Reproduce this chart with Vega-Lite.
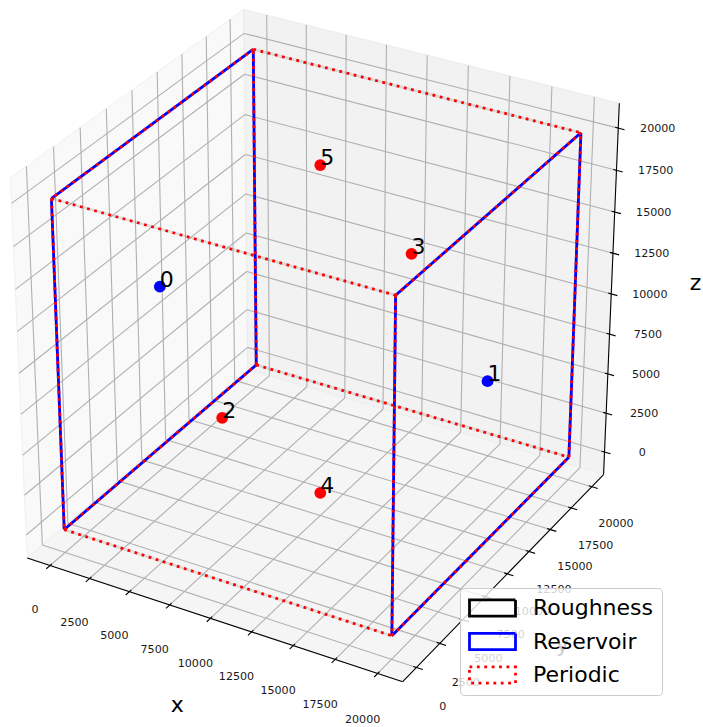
{
  "$schema": "https://vega.github.io/schema/vega-lite/v6.json",
  "width": 703,
  "height": 727,
  "autosize": "none",
  "padding": 0,
  "config": {"view": {"stroke": null}, "font": "DejaVu Sans"},
  "datasets": {
    "ticks": [
      {"axis": "x", "v": 0}, {"axis": "x", "v": 2500}, {"axis": "x", "v": 5000}, {"axis": "x", "v": 7500}, {"axis": "x", "v": 10000}, {"axis": "x", "v": 12500}, {"axis": "x", "v": 15000}, {"axis": "x", "v": 17500}, {"axis": "x", "v": 20000},
      {"axis": "y", "v": 0}, {"axis": "y", "v": 2500}, {"axis": "y", "v": 5000}, {"axis": "y", "v": 7500}, {"axis": "y", "v": 10000}, {"axis": "y", "v": 12500}, {"axis": "y", "v": 15000}, {"axis": "y", "v": 17500}, {"axis": "y", "v": 20000},
      {"axis": "z", "v": 0}, {"axis": "z", "v": 2500}, {"axis": "z", "v": 5000}, {"axis": "z", "v": 7500}, {"axis": "z", "v": 10000}, {"axis": "z", "v": 12500}, {"axis": "z", "v": 15000}, {"axis": "z", "v": 17500}, {"axis": "z", "v": 20000}
    ],
    "axes": [{"axis": "x"}, {"axis": "y"}, {"axis": "z"}],
    "corners": [{"i": 0}, {"i": 1}, {"i": 2}, {"i": 3}],
    "edges": [
      {"boundary": "Reservoir", "x1": 0, "y1": 0, "z1": 0, "x2": 0, "y2": 20000, "z2": 0},
      {"boundary": "Reservoir", "x1": 0, "y1": 20000, "z1": 0, "x2": 0, "y2": 20000, "z2": 20000},
      {"boundary": "Reservoir", "x1": 0, "y1": 20000, "z1": 20000, "x2": 0, "y2": 0, "z2": 20000},
      {"boundary": "Reservoir", "x1": 0, "y1": 0, "z1": 20000, "x2": 0, "y2": 0, "z2": 0},
      {"boundary": "Reservoir", "x1": 20000, "y1": 0, "z1": 0, "x2": 20000, "y2": 20000, "z2": 0},
      {"boundary": "Reservoir", "x1": 20000, "y1": 20000, "z1": 0, "x2": 20000, "y2": 20000, "z2": 20000},
      {"boundary": "Reservoir", "x1": 20000, "y1": 20000, "z1": 20000, "x2": 20000, "y2": 0, "z2": 20000},
      {"boundary": "Reservoir", "x1": 20000, "y1": 0, "z1": 20000, "x2": 20000, "y2": 0, "z2": 0},
      {"boundary": "Periodic", "x1": 0, "y1": 0, "z1": 0, "x2": 0, "y2": 20000, "z2": 0},
      {"boundary": "Periodic", "x1": 0, "y1": 20000, "z1": 0, "x2": 0, "y2": 20000, "z2": 20000},
      {"boundary": "Periodic", "x1": 0, "y1": 20000, "z1": 20000, "x2": 0, "y2": 0, "z2": 20000},
      {"boundary": "Periodic", "x1": 0, "y1": 0, "z1": 20000, "x2": 0, "y2": 0, "z2": 0},
      {"boundary": "Periodic", "x1": 20000, "y1": 0, "z1": 0, "x2": 20000, "y2": 20000, "z2": 0},
      {"boundary": "Periodic", "x1": 20000, "y1": 20000, "z1": 0, "x2": 20000, "y2": 20000, "z2": 20000},
      {"boundary": "Periodic", "x1": 20000, "y1": 20000, "z1": 20000, "x2": 20000, "y2": 0, "z2": 20000},
      {"boundary": "Periodic", "x1": 20000, "y1": 0, "z1": 20000, "x2": 20000, "y2": 0, "z2": 0},
      {"boundary": "Periodic", "x1": 0, "y1": 0, "z1": 0, "x2": 20000, "y2": 0, "z2": 0},
      {"boundary": "Periodic", "x1": 0, "y1": 20000, "z1": 0, "x2": 20000, "y2": 20000, "z2": 0},
      {"boundary": "Periodic", "x1": 0, "y1": 0, "z1": 20000, "x2": 20000, "y2": 0, "z2": 20000},
      {"boundary": "Periodic", "x1": 0, "y1": 20000, "z1": 20000, "x2": 20000, "y2": 20000, "z2": 20000}
    ],
    "points": [
      {"id": "0", "boundary": "Reservoir", "x": 0, "y": 10000, "z": 10000},
      {"id": "1", "boundary": "Reservoir", "x": 20000, "y": 10000, "z": 10000},
      {"id": "2", "boundary": "Periodic", "x": 10000, "y": 0, "z": 10000},
      {"id": "3", "boundary": "Periodic", "x": 10000, "y": 20000, "z": 10000},
      {"id": "4", "boundary": "Periodic", "x": 10000, "y": 10000, "z": 0},
      {"id": "5", "boundary": "Periodic", "x": 10000, "y": 10000, "z": 20000}
    ]
  },
  "layer": [
    {
      "data": {"name": "corners"},
      "transform": [
        {"calculate": "-1458.33", "as": "x1"},
        {"calculate": "(datum.i==1||datum.i==2) ? 21458.33 : -1458.33", "as": "y1"},
        {"calculate": "datum.i>=2 ? 21458.33 : -1458.33", "as": "z1"},
        {"calculate": "(datum.x1-10000)*4.801e-5", "as": "a1"},
        {"calculate": "(datum.y1-10000)*4.801e-5", "as": "b1"},
        {"calculate": "(datum.z1-10000)*4.801e-5", "as": "c1"},
        {"calculate": "10-0.4330127*datum.a1+0.75*datum.b1-0.5*datum.c1", "as": "w1"},
        {"calculate": "(0.8660254*datum.a1+0.5*datum.b1)/datum.w1", "as": "X1"},
        {"calculate": "(-0.25*datum.a1+0.4330127*datum.b1+0.8660254*datum.c1)/datum.w1", "as": "Y1"}
      ],
      "mark": {"type": "line", "interpolate": "linear-closed", "fill": "#f9f9f9", "stroke": "#f0f0f0", "strokeWidth": 1},
      "encoding": {
        "x": {"field": "X1", "type": "quantitative", "scale": {"domain": [-0.081315, 0.097157], "nice": false, "zero": false}, "axis": null},
        "y": {"field": "Y1", "type": "quantitative", "scale": {"domain": [-0.100051, 0.084514], "nice": false, "zero": false}, "axis": null},
        "order": {"field": "i", "type": "quantitative"}
      }
    },
    {
      "data": {"name": "corners"},
      "transform": [
        {"calculate": "(datum.i==1||datum.i==2) ? 21458.33 : -1458.33", "as": "x1"},
        {"calculate": "21458.33", "as": "y1"},
        {"calculate": "datum.i>=2 ? 21458.33 : -1458.33", "as": "z1"},
        {"calculate": "(datum.x1-10000)*4.801e-5", "as": "a1"},
        {"calculate": "(datum.y1-10000)*4.801e-5", "as": "b1"},
        {"calculate": "(datum.z1-10000)*4.801e-5", "as": "c1"},
        {"calculate": "10-0.4330127*datum.a1+0.75*datum.b1-0.5*datum.c1", "as": "w1"},
        {"calculate": "(0.8660254*datum.a1+0.5*datum.b1)/datum.w1", "as": "X1"},
        {"calculate": "(-0.25*datum.a1+0.4330127*datum.b1+0.8660254*datum.c1)/datum.w1", "as": "Y1"}
      ],
      "mark": {"type": "line", "interpolate": "linear-closed", "fill": "#f2f2f2", "stroke": "#ebebeb", "strokeWidth": 1},
      "encoding": {
        "x": {"field": "X1", "type": "quantitative", "scale": {"domain": [-0.081315, 0.097157], "nice": false, "zero": false}, "axis": null},
        "y": {"field": "Y1", "type": "quantitative", "scale": {"domain": [-0.100051, 0.084514], "nice": false, "zero": false}, "axis": null},
        "order": {"field": "i", "type": "quantitative"}
      }
    },
    {
      "data": {"name": "corners"},
      "transform": [
        {"calculate": "(datum.i==1||datum.i==2) ? 21458.33 : -1458.33", "as": "x1"},
        {"calculate": "datum.i>=2 ? 21458.33 : -1458.33", "as": "y1"},
        {"calculate": "-1458.33", "as": "z1"},
        {"calculate": "(datum.x1-10000)*4.801e-5", "as": "a1"},
        {"calculate": "(datum.y1-10000)*4.801e-5", "as": "b1"},
        {"calculate": "(datum.z1-10000)*4.801e-5", "as": "c1"},
        {"calculate": "10-0.4330127*datum.a1+0.75*datum.b1-0.5*datum.c1", "as": "w1"},
        {"calculate": "(0.8660254*datum.a1+0.5*datum.b1)/datum.w1", "as": "X1"},
        {"calculate": "(-0.25*datum.a1+0.4330127*datum.b1+0.8660254*datum.c1)/datum.w1", "as": "Y1"}
      ],
      "mark": {"type": "line", "interpolate": "linear-closed", "fill": "#f5f5f5", "stroke": "#eeeeee", "strokeWidth": 1},
      "encoding": {
        "x": {"field": "X1", "type": "quantitative", "scale": {"domain": [-0.081315, 0.097157], "nice": false, "zero": false}, "axis": null},
        "y": {"field": "Y1", "type": "quantitative", "scale": {"domain": [-0.100051, 0.084514], "nice": false, "zero": false}, "axis": null},
        "order": {"field": "i", "type": "quantitative"}
      }
    },
    {
      "data": {"name": "ticks"},
      "transform": [
        {"calculate": "datum.axis=='x' ? datum.v : datum.axis=='y' ? -1458.33 : 21458.33", "as": "x1"},
        {"calculate": "datum.axis=='x' ? -1458.33 : datum.axis=='y' ? datum.v : 21458.33", "as": "y1"},
        {"calculate": "datum.axis=='x' ? -1458.33 : datum.axis=='y' ? 21458.33 : datum.v", "as": "z1"},
        {"calculate": "datum.axis=='x' ? datum.v : -1458.33", "as": "x2"},
        {"calculate": "datum.axis=='y' ? datum.v : 21458.33", "as": "y2"},
        {"calculate": "datum.axis=='z' ? datum.v : -1458.33", "as": "z2"},
        {"calculate": "(datum.x1-10000)*4.801e-5", "as": "a1"},
        {"calculate": "(datum.y1-10000)*4.801e-5", "as": "b1"},
        {"calculate": "(datum.z1-10000)*4.801e-5", "as": "c1"},
        {"calculate": "10-0.4330127*datum.a1+0.75*datum.b1-0.5*datum.c1", "as": "w1"},
        {"calculate": "(0.8660254*datum.a1+0.5*datum.b1)/datum.w1", "as": "X1"},
        {"calculate": "(-0.25*datum.a1+0.4330127*datum.b1+0.8660254*datum.c1)/datum.w1", "as": "Y1"},
        {"calculate": "(datum.x2-10000)*4.801e-5", "as": "a2"},
        {"calculate": "(datum.y2-10000)*4.801e-5", "as": "b2"},
        {"calculate": "(datum.z2-10000)*4.801e-5", "as": "c2"},
        {"calculate": "10-0.4330127*datum.a2+0.75*datum.b2-0.5*datum.c2", "as": "w2"},
        {"calculate": "(0.8660254*datum.a2+0.5*datum.b2)/datum.w2", "as": "X2"},
        {"calculate": "(-0.25*datum.a2+0.4330127*datum.b2+0.8660254*datum.c2)/datum.w2", "as": "Y2"}
      ],
      "mark": {"type": "rule", "color": "#b0b0b0", "strokeWidth": 1.1},
      "encoding": {
        "x": {"field": "X1", "type": "quantitative", "scale": {"domain": [-0.081315, 0.097157], "nice": false, "zero": false}, "axis": null},
        "y": {"field": "Y1", "type": "quantitative", "scale": {"domain": [-0.100051, 0.084514], "nice": false, "zero": false}, "axis": null},
        "x2": {"field": "X2"},
        "y2": {"field": "Y2"}
      }
    },
    {
      "data": {"name": "ticks"},
      "transform": [
        {"calculate": "datum.axis=='x' ? datum.v : -1458.33", "as": "x1"},
        {"calculate": "datum.axis=='y' ? datum.v : 21458.33", "as": "y1"},
        {"calculate": "datum.axis=='z' ? datum.v : -1458.33", "as": "z1"},
        {"calculate": "datum.axis=='x' ? datum.v : datum.axis=='y' ? 21458.33 : -1458.33", "as": "x2"},
        {"calculate": "datum.axis=='x' ? 21458.33 : datum.axis=='y' ? datum.v : -1458.33", "as": "y2"},
        {"calculate": "datum.axis=='x' ? 21458.33 : datum.axis=='y' ? -1458.33 : datum.v", "as": "z2"},
        {"calculate": "(datum.x1-10000)*4.801e-5", "as": "a1"},
        {"calculate": "(datum.y1-10000)*4.801e-5", "as": "b1"},
        {"calculate": "(datum.z1-10000)*4.801e-5", "as": "c1"},
        {"calculate": "10-0.4330127*datum.a1+0.75*datum.b1-0.5*datum.c1", "as": "w1"},
        {"calculate": "(0.8660254*datum.a1+0.5*datum.b1)/datum.w1", "as": "X1"},
        {"calculate": "(-0.25*datum.a1+0.4330127*datum.b1+0.8660254*datum.c1)/datum.w1", "as": "Y1"},
        {"calculate": "(datum.x2-10000)*4.801e-5", "as": "a2"},
        {"calculate": "(datum.y2-10000)*4.801e-5", "as": "b2"},
        {"calculate": "(datum.z2-10000)*4.801e-5", "as": "c2"},
        {"calculate": "10-0.4330127*datum.a2+0.75*datum.b2-0.5*datum.c2", "as": "w2"},
        {"calculate": "(0.8660254*datum.a2+0.5*datum.b2)/datum.w2", "as": "X2"},
        {"calculate": "(-0.25*datum.a2+0.4330127*datum.b2+0.8660254*datum.c2)/datum.w2", "as": "Y2"}
      ],
      "mark": {"type": "rule", "color": "#b0b0b0", "strokeWidth": 1.1},
      "encoding": {
        "x": {"field": "X1", "type": "quantitative", "scale": {"domain": [-0.081315, 0.097157], "nice": false, "zero": false}, "axis": null},
        "y": {"field": "Y1", "type": "quantitative", "scale": {"domain": [-0.100051, 0.084514], "nice": false, "zero": false}, "axis": null},
        "x2": {"field": "X2"},
        "y2": {"field": "Y2"}
      }
    },
    {
      "data": {"name": "axes"},
      "transform": [
        {"calculate": "datum.axis=='x' ? -1458.33 : 21458.33", "as": "x1"},
        {"calculate": "datum.axis=='z' ? 21458.33 : -1458.33", "as": "y1"},
        {"calculate": "-1458.33", "as": "z1"},
        {"calculate": "21458.33", "as": "x2"},
        {"calculate": "datum.axis=='x' ? -1458.33 : 21458.33", "as": "y2"},
        {"calculate": "datum.axis=='z' ? 21458.33 : -1458.33", "as": "z2"},
        {"calculate": "(datum.x1-10000)*4.801e-5", "as": "a1"},
        {"calculate": "(datum.y1-10000)*4.801e-5", "as": "b1"},
        {"calculate": "(datum.z1-10000)*4.801e-5", "as": "c1"},
        {"calculate": "10-0.4330127*datum.a1+0.75*datum.b1-0.5*datum.c1", "as": "w1"},
        {"calculate": "(0.8660254*datum.a1+0.5*datum.b1)/datum.w1", "as": "X1"},
        {"calculate": "(-0.25*datum.a1+0.4330127*datum.b1+0.8660254*datum.c1)/datum.w1", "as": "Y1"},
        {"calculate": "(datum.x2-10000)*4.801e-5", "as": "a2"},
        {"calculate": "(datum.y2-10000)*4.801e-5", "as": "b2"},
        {"calculate": "(datum.z2-10000)*4.801e-5", "as": "c2"},
        {"calculate": "10-0.4330127*datum.a2+0.75*datum.b2-0.5*datum.c2", "as": "w2"},
        {"calculate": "(0.8660254*datum.a2+0.5*datum.b2)/datum.w2", "as": "X2"},
        {"calculate": "(-0.25*datum.a2+0.4330127*datum.b2+0.8660254*datum.c2)/datum.w2", "as": "Y2"}
      ],
      "mark": {"type": "rule", "color": "black", "strokeWidth": 1.1},
      "encoding": {
        "x": {"field": "X1", "type": "quantitative", "scale": {"domain": [-0.081315, 0.097157], "nice": false, "zero": false}, "axis": null},
        "y": {"field": "Y1", "type": "quantitative", "scale": {"domain": [-0.100051, 0.084514], "nice": false, "zero": false}, "axis": null},
        "x2": {"field": "X2"},
        "y2": {"field": "Y2"}
      }
    },
    {
      "data": {"name": "ticks"},
      "transform": [
        {"calculate": "datum.axis=='x' ? datum.v : 21275", "as": "x1"},
        {"calculate": "datum.axis=='x' ? -1275 : datum.axis=='y' ? datum.v : 21458.33", "as": "y1"},
        {"calculate": "datum.axis=='z' ? datum.v : -1458.33", "as": "z1"},
        {"calculate": "datum.axis=='x' ? datum.v : 21825", "as": "x2"},
        {"calculate": "datum.axis=='x' ? -1825 : datum.axis=='y' ? datum.v : 21458.33", "as": "y2"},
        {"calculate": "datum.axis=='z' ? datum.v : -1458.33", "as": "z2"},
        {"calculate": "(datum.x1-10000)*4.801e-5", "as": "a1"},
        {"calculate": "(datum.y1-10000)*4.801e-5", "as": "b1"},
        {"calculate": "(datum.z1-10000)*4.801e-5", "as": "c1"},
        {"calculate": "10-0.4330127*datum.a1+0.75*datum.b1-0.5*datum.c1", "as": "w1"},
        {"calculate": "(0.8660254*datum.a1+0.5*datum.b1)/datum.w1", "as": "X1"},
        {"calculate": "(-0.25*datum.a1+0.4330127*datum.b1+0.8660254*datum.c1)/datum.w1", "as": "Y1"},
        {"calculate": "(datum.x2-10000)*4.801e-5", "as": "a2"},
        {"calculate": "(datum.y2-10000)*4.801e-5", "as": "b2"},
        {"calculate": "(datum.z2-10000)*4.801e-5", "as": "c2"},
        {"calculate": "10-0.4330127*datum.a2+0.75*datum.b2-0.5*datum.c2", "as": "w2"},
        {"calculate": "(0.8660254*datum.a2+0.5*datum.b2)/datum.w2", "as": "X2"},
        {"calculate": "(-0.25*datum.a2+0.4330127*datum.b2+0.8660254*datum.c2)/datum.w2", "as": "Y2"}
      ],
      "mark": {"type": "rule", "color": "black", "strokeWidth": 1.1},
      "encoding": {
        "x": {"field": "X1", "type": "quantitative", "scale": {"domain": [-0.081315, 0.097157], "nice": false, "zero": false}, "axis": null},
        "y": {"field": "Y1", "type": "quantitative", "scale": {"domain": [-0.100051, 0.084514], "nice": false, "zero": false}, "axis": null},
        "x2": {"field": "X2"},
        "y2": {"field": "Y2"}
      }
    },
    {
      "data": {"name": "ticks"},
      "transform": [
        {"calculate": "datum.axis=='x' ? datum.v : 23008.33", "as": "x1"},
        {"calculate": "datum.axis=='y' ? datum.v : datum.axis=='x' ? -3008.33 : 23008.33", "as": "y1"},
        {"calculate": "datum.axis=='z' ? datum.v : -3008.33", "as": "z1"},
        {"calculate": "(datum.x1-10000)*4.801e-5", "as": "a1"},
        {"calculate": "(datum.y1-10000)*4.801e-5", "as": "b1"},
        {"calculate": "(datum.z1-10000)*4.801e-5", "as": "c1"},
        {"calculate": "10-0.4330127*datum.a1+0.75*datum.b1-0.5*datum.c1", "as": "w1"},
        {"calculate": "(0.8660254*datum.a1+0.5*datum.b1)/datum.w1", "as": "X1"},
        {"calculate": "(-0.25*datum.a1+0.4330127*datum.b1+0.8660254*datum.c1)/datum.w1", "as": "Y1"}
      ],
      "mark": {"type": "text", "align": "center", "baseline": "top", "fontSize": 11.1, "color": "#1a1a1a"},
      "encoding": {
        "x": {"field": "X1", "type": "quantitative", "scale": {"domain": [-0.081315, 0.097157], "nice": false, "zero": false}, "axis": null},
        "y": {"field": "Y1", "type": "quantitative", "scale": {"domain": [-0.100051, 0.084514], "nice": false, "zero": false}, "axis": null},
        "text": {"field": "v", "type": "quantitative", "format": "d"}
      }
    },
    {
      "data": {"name": "axes"},
      "transform": [
        {"calculate": "datum.axis=='x' ? 10000 : 24858.33", "as": "x1"},
        {"calculate": "datum.axis=='y' ? 10000 : datum.axis=='x' ? -4858.33 : 24858.33", "as": "y1"},
        {"calculate": "datum.axis=='z' ? 10000 : -4858.33", "as": "z1"},
        {"calculate": "(datum.x1-10000)*4.801e-5", "as": "a1"},
        {"calculate": "(datum.y1-10000)*4.801e-5", "as": "b1"},
        {"calculate": "(datum.z1-10000)*4.801e-5", "as": "c1"},
        {"calculate": "10-0.4330127*datum.a1+0.75*datum.b1-0.5*datum.c1", "as": "w1"},
        {"calculate": "(0.8660254*datum.a1+0.5*datum.b1)/datum.w1", "as": "X1"},
        {"calculate": "(-0.25*datum.a1+0.4330127*datum.b1+0.8660254*datum.c1)/datum.w1", "as": "Y1"}
      ],
      "mark": {"type": "text", "align": "center", "baseline": "middle", "fontSize": 22, "color": "black"},
      "encoding": {
        "x": {"field": "X1", "type": "quantitative", "scale": {"domain": [-0.081315, 0.097157], "nice": false, "zero": false}, "axis": null},
        "y": {"field": "Y1", "type": "quantitative", "scale": {"domain": [-0.100051, 0.084514], "nice": false, "zero": false}, "axis": null},
        "text": {"field": "axis", "type": "nominal"}
      }
    },
    {
      "data": {"name": "edges"},
      "transform": [
        {"filter": "datum.boundary=='Periodic'"},
        {"calculate": "(datum.x1-10000)*4.801e-5", "as": "a1"},
        {"calculate": "(datum.y1-10000)*4.801e-5", "as": "b1"},
        {"calculate": "(datum.z1-10000)*4.801e-5", "as": "c1"},
        {"calculate": "10-0.4330127*datum.a1+0.75*datum.b1-0.5*datum.c1", "as": "w1"},
        {"calculate": "(0.8660254*datum.a1+0.5*datum.b1)/datum.w1", "as": "X1"},
        {"calculate": "(-0.25*datum.a1+0.4330127*datum.b1+0.8660254*datum.c1)/datum.w1", "as": "Y1"},
        {"calculate": "(datum.x2-10000)*4.801e-5", "as": "a2"},
        {"calculate": "(datum.y2-10000)*4.801e-5", "as": "b2"},
        {"calculate": "(datum.z2-10000)*4.801e-5", "as": "c2"},
        {"calculate": "10-0.4330127*datum.a2+0.75*datum.b2-0.5*datum.c2", "as": "w2"},
        {"calculate": "(0.8660254*datum.a2+0.5*datum.b2)/datum.w2", "as": "X2"},
        {"calculate": "(-0.25*datum.a2+0.4330127*datum.b2+0.8660254*datum.c2)/datum.w2", "as": "Y2"}
      ],
      "mark": {"type": "rule", "color": "black", "opacity": 0.1, "strokeWidth": 2.8},
      "encoding": {
        "x": {"field": "X1", "type": "quantitative", "scale": {"domain": [-0.081315, 0.097157], "nice": false, "zero": false}, "axis": null},
        "y": {"field": "Y1", "type": "quantitative", "scale": {"domain": [-0.100051, 0.084514], "nice": false, "zero": false}, "axis": null},
        "x2": {"field": "X2"},
        "y2": {"field": "Y2"}
      }
    },
    {
      "data": {"name": "edges"},
      "transform": [
        {"calculate": "(datum.x1-10000)*4.801e-5", "as": "a1"},
        {"calculate": "(datum.y1-10000)*4.801e-5", "as": "b1"},
        {"calculate": "(datum.z1-10000)*4.801e-5", "as": "c1"},
        {"calculate": "10-0.4330127*datum.a1+0.75*datum.b1-0.5*datum.c1", "as": "w1"},
        {"calculate": "(0.8660254*datum.a1+0.5*datum.b1)/datum.w1", "as": "X1"},
        {"calculate": "(-0.25*datum.a1+0.4330127*datum.b1+0.8660254*datum.c1)/datum.w1", "as": "Y1"},
        {"calculate": "(datum.x2-10000)*4.801e-5", "as": "a2"},
        {"calculate": "(datum.y2-10000)*4.801e-5", "as": "b2"},
        {"calculate": "(datum.z2-10000)*4.801e-5", "as": "c2"},
        {"calculate": "10-0.4330127*datum.a2+0.75*datum.b2-0.5*datum.c2", "as": "w2"},
        {"calculate": "(0.8660254*datum.a2+0.5*datum.b2)/datum.w2", "as": "X2"},
        {"calculate": "(-0.25*datum.a2+0.4330127*datum.b2+0.8660254*datum.c2)/datum.w2", "as": "Y2"}
      ],
      "mark": {"type": "rule", "strokeWidth": 2.8, "strokeCap": "butt"},
      "encoding": {
        "x": {"field": "X1", "type": "quantitative", "scale": {"domain": [-0.081315, 0.097157], "nice": false, "zero": false}, "axis": null},
        "y": {"field": "Y1", "type": "quantitative", "scale": {"domain": [-0.100051, 0.084514], "nice": false, "zero": false}, "axis": null},
        "x2": {"field": "X2"},
        "y2": {"field": "Y2"},
        "color": {
          "field": "boundary", "type": "nominal",
          "scale": {"domain": ["Roughness", "Reservoir", "Periodic"], "range": ["black", "blue", "red"]},
          "legend": {"title": null, "orient": "none", "legendX": 460, "legendY": 588, "symbolType": "M-1,-0.35H1V0.35H-1Z", "symbolSize": 2116, "symbolStrokeWidth": 2.8, "symbolFillColor": "transparent", "labelFontSize": 22, "labelFont": "DejaVu Sans", "labelColor": "black", "labelOffset": 16, "clipHeight": 24, "rowPadding": 9.5, "padding": 8, "fillColor": "rgba(255,255,255,0.8)", "strokeColor": "#cccccc", "cornerRadius": 4}
        },
        "strokeDash": {
          "field": "boundary", "type": "nominal",
          "scale": {"domain": ["Roughness", "Reservoir", "Periodic"], "range": [[1, 0], [1, 0], [2.8, 4.6]]},
          "legend": {"title": null, "orient": "none", "legendX": 460, "legendY": 588, "symbolType": "M-1,-0.35H1V0.35H-1Z", "symbolSize": 2116, "symbolStrokeWidth": 2.8, "symbolFillColor": "transparent", "labelFontSize": 22, "labelFont": "DejaVu Sans", "labelColor": "black", "labelOffset": 16, "clipHeight": 24, "rowPadding": 9.5, "padding": 8, "fillColor": "rgba(255,255,255,0.8)", "strokeColor": "#cccccc", "cornerRadius": 4}
        }
      }
    },
    {
      "data": {"name": "points"},
      "transform": [
        {"calculate": "(datum.x-10000)*4.801e-5", "as": "a1"},
        {"calculate": "(datum.y-10000)*4.801e-5", "as": "b1"},
        {"calculate": "(datum.z-10000)*4.801e-5", "as": "c1"},
        {"calculate": "10-0.4330127*datum.a1+0.75*datum.b1-0.5*datum.c1", "as": "w1"},
        {"calculate": "(0.8660254*datum.a1+0.5*datum.b1)/datum.w1", "as": "X1"},
        {"calculate": "(-0.25*datum.a1+0.4330127*datum.b1+0.8660254*datum.c1)/datum.w1", "as": "Y1"}
      ],
      "mark": {"type": "point", "shape": "circle", "filled": true, "size": 140, "opacity": 1, "strokeWidth": 0},
      "encoding": {
        "x": {"field": "X1", "type": "quantitative", "scale": {"domain": [-0.081315, 0.097157], "nice": false, "zero": false}, "axis": null},
        "y": {"field": "Y1", "type": "quantitative", "scale": {"domain": [-0.100051, 0.084514], "nice": false, "zero": false}, "axis": null},
        "fill": {"field": "boundary", "type": "nominal", "scale": {"domain": ["Reservoir", "Periodic"], "range": ["blue", "red"]}, "legend": null}
      }
    },
    {
      "data": {"name": "points"},
      "transform": [
        {"calculate": "(datum.x-10000)*4.801e-5", "as": "a1"},
        {"calculate": "(datum.y-10000)*4.801e-5", "as": "b1"},
        {"calculate": "(datum.z-10000)*4.801e-5", "as": "c1"},
        {"calculate": "10-0.4330127*datum.a1+0.75*datum.b1-0.5*datum.c1", "as": "w1"},
        {"calculate": "(0.8660254*datum.a1+0.5*datum.b1)/datum.w1", "as": "X1"},
        {"calculate": "(-0.25*datum.a1+0.4330127*datum.b1+0.8660254*datum.c1)/datum.w1", "as": "Y1"}
      ],
      "mark": {"type": "text", "align": "left", "baseline": "alphabetic", "fontSize": 22, "color": "black"},
      "encoding": {
        "x": {"field": "X1", "type": "quantitative", "scale": {"domain": [-0.081315, 0.097157], "nice": false, "zero": false}, "axis": null},
        "y": {"field": "Y1", "type": "quantitative", "scale": {"domain": [-0.100051, 0.084514], "nice": false, "zero": false}, "axis": null},
        "text": {"field": "id", "type": "nominal"}
      }
    }
  ]
}
